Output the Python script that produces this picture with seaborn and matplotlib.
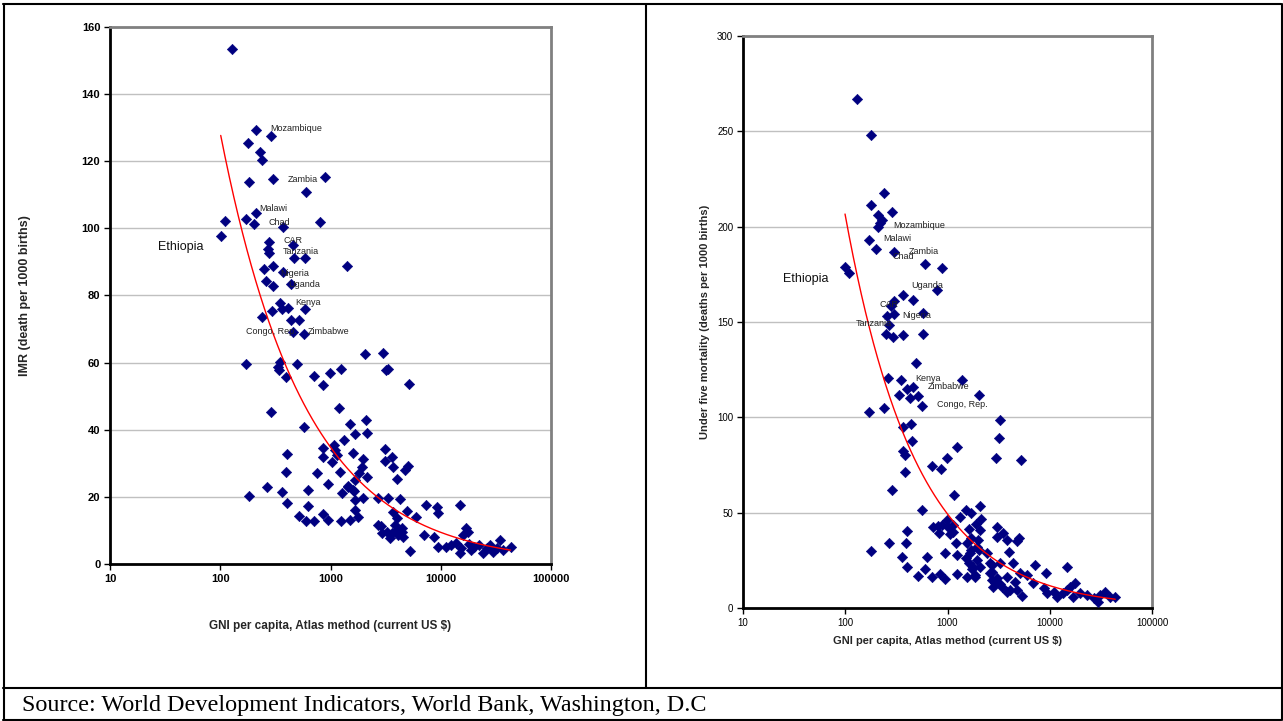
import numpy as np
import pandas as pd
import seaborn as sns
import matplotlib.pyplot as plt
from matplotlib.lines import Line2D
from matplotlib.ticker import NullLocator

sns.set_theme(style="white")
plt.rcParams['font.family'] = ['Liberation Sans', 'DejaVu Sans']

# ---- left panel: GNI per capita vs infant mortality ----
imr_gni = [128, 211, 286, 179, 229, 239, 181, 299, 889, 603,
           211, 110, 171, 201, 370, 801, 101, 278, 453, 272,
           275, 469, 582, 1400, 249, 299, 368, 259, 299, 441,
           348, 292, 360, 408, 585, 237, 436, 517, 459, 573,
           171, 348, 340, 331, 394, 492, 702, 994, 1241, 863,
           290, 1183, 570, 1500, 1665, 1321, 1067, 859, 848, 1023,
           1136, 1607, 400, 392, 748, 1216, 940, 1259, 1438, 1640,
           181, 268, 360, 620, 403, 628, 520, 603, 712, 853,
           940, 1241, 1500, 2110, 2135, 1097, 1977, 1950, 2124, 1820,
           1665, 1448, 1607, 1665, 1977, 3110, 3110, 3580, 3700, 4720,
           5060, 4025, 2700, 3330, 4310, 1665, 1782, 3700, 4960, 4025,
           6020, 2864, 2905, 3230, 3580, 3975, 4410, 4560, 3450, 4105,
           3835, 4410, 5250, 7330, 9270, 9460, 7080, 8720, 9460, 14900,
           17730, 17100, 11200, 12500, 13700, 15400, 14900, 18000, 20000, 22400,
           24200, 26200, 28000, 30000, 34500, 36800, 43000, 32700, 18800, 2700,
           2040, 3000, 3220, 3330, 5130, 16000]
imr_val = [153.5, 129.2, 127.6, 125.5, 122.7, 120.2, 113.9, 114.5, 115.2, 110.7,
           104.4, 102.1, 102.8, 101.1, 100.4, 101.7, 97.8, 95.9, 94.9, 93.8,
           92.6, 91.2, 91.0, 88.7, 87.9, 88.7, 87.0, 84.4, 82.9, 83.3,
           77.8, 75.3, 75.8, 76.1, 75.8, 73.6, 72.6, 72.8, 69.1, 68.4,
           59.5, 60.1, 57.9, 58.6, 55.7, 59.5, 55.9, 57.0, 58.0, 53.4,
           45.3, 46.5, 40.8, 41.6, 38.7, 36.9, 35.4, 34.4, 31.9, 30.4,
           32.4, 33.1, 32.8, 27.3, 27.2, 27.3, 23.8, 21.0, 23.0, 21.8,
           20.3, 23.0, 21.3, 22.0, 18.2, 17.3, 14.3, 12.9, 12.8, 14.9,
           13.0, 12.8, 13.1, 42.9, 38.9, 33.9, 31.4, 29.0, 26.0, 27.0,
           25.0, 23.2, 22.0, 19.0, 19.7, 34.1, 30.8, 31.8, 28.8, 28.0,
           29.3, 25.3, 19.8, 19.8, 19.3, 16.1, 14.1, 15.6, 15.8, 13.6,
           13.9, 11.3, 9.1, 9.6, 9.1, 10.1, 9.6, 8.1, 7.6, 8.6,
           11.6, 10.6, 4.0, 17.6, 17.1, 15.3, 8.6, 8.1, 5.2, 17.6,
           9.6, 10.6, 5.2, 5.6, 6.2, 4.7, 3.2, 6.0, 5.2, 5.7,
           3.2, 4.7, 5.7, 3.7, 7.1, 4.2, 5.2, 4.7, 4.2, 11.6,
           62.4, 62.7, 57.9, 58.2, 53.5, 8.5]
imr_names = ['Mozambique', 'Zambia', 'Malawi', 'Chad', 'CAR', 'Tanzania', 'Nigeria',
             'Uganda', 'Kenya', 'Congo, Rep.', 'Zimbabwe']
imr_lab_x = [286, 408, 226, 272, 378, 368, 348, 414, 479, 170, 628]
imr_lab_y = [129.6, 114.6, 106, 101.6, 96.2, 93, 86.5, 83.3, 78, 69.1, 69.3]
imr_eth = (27.4, 94.3)

# ---- right panel: GNI per capita vs under five mortality ----
u5_gni = [129, 179, 238, 179, 287, 208, 229, 208, 170, 202,
          300, 604, 879, 99.5, 110, 796, 218, 300, 279, 365,
          464, 258, 300, 270, 249, 291, 370, 581, 573, 493,
          261, 349, 405, 464, 431, 338, 519, 568, 170, 240,
          1400, 2040, 365, 441, 451, 370, 382, 387, 289, 702,
          859, 990, 1233, 1161, 564, 180, 270, 400, 391, 357,
          403, 519, 604, 627, 702, 848, 948, 943, 728, 815,
          833, 1020, 1214, 1233, 1233, 1143, 984, 1327, 1510, 1690,
          2085, 2118, 1637, 2085, 1545, 1665, 1935, 1770, 1545, 1862,
          2710, 2420, 3270, 3180, 2990, 5210, 3050, 3080, 3520, 3800,
          4760, 5010, 3950, 3270, 4360, 2610, 2710, 2920, 3400, 3800,
          4580, 4760, 5330, 4100, 3050, 5070, 5980, 7200, 6930, 9230,
          14900, 8690, 9380, 10900, 13600, 15850, 17700, 14700, 19800, 23000,
          26800, 31100, 34800, 39000, 43700, 11700, 17000, 29900, 2780, 2710,
          1520, 1690, 1610, 1730, 1862, 1935, 2085, 2050, 1690, 2000,
          1900, 879, 1060, 1143, 2610, 3800, 3240]
u5_val = [266.7, 248, 217.7, 211.4, 207.8, 206, 203.2, 199.9, 193, 188.1,
          186.8, 180.5, 178.2, 179, 175.8, 166.6, 202, 161.2, 158.6, 164,
          161.4, 153.4, 154.2, 148.6, 143.9, 142.2, 143.2, 143.8, 154.8, 128.5,
          120.5, 119.8, 114.9, 116, 110.2, 111.9, 111.4, 105.8, 102.8, 104.7,
          119.4, 111.9, 94.8, 96.5, 87.8, 82.5, 80.1, 71.5, 62.1, 74.7,
          73.1, 79, 84.3, 59.4, 51.6, 30.2, 34.4, 40.7, 34.1, 26.8,
          21.8, 16.9, 20.5, 26.8, 16.3, 18, 15.2, 28.9, 42.5, 43.2,
          39.3, 42.8, 34.1, 28, 18, 40.2, 46.3, 47.7, 51.6, 49.8,
          53.7, 46.7, 41.4, 41.1, 34.1, 28.9, 32.3, 21.5, 16.6, 17.5,
          22.7, 28.9, 98.8, 89.2, 79, 77.8, 42.8, 37.6, 39.7, 35.8,
          35.5, 36.7, 29.7, 23.6, 23.6, 23.6, 19.2, 13.1, 11.3, 16.6,
          14, 9.6, 6.5, 9.6, 15.7, 18.4, 17.5, 22.7, 13.4, 18.4,
          21.8, 10.5, 7.9, 8.7, 7.9, 11.3, 13.1, 9.6, 7.9, 7,
          5.2, 7, 8.7, 6.1, 6.1, 6.1, 6.1, 3.5, 11.3, 14.8,
          26.2, 30.6, 23.6, 20.5, 16.6, 25.3, 21.8, 30.6, 36.7, 35.8,
          44.1, 43.7, 39, 43.7, 18.4, 8.7, 12.5]
u5_names = ['Mozambique', 'Malawi', 'Zambia', 'Chad', 'Uganda', 'CAR', 'Nigeria',
            'Tanzania', 'Kenya', 'Zimbabwe', 'Congo, Rep.']
u5_lab_x = [292, 236, 418, 287, 447, 214, 362, 128, 485, 635, 796]
u5_lab_y = [200.7, 193.8, 187.1, 184.2, 169.1, 159.1, 153.4, 149.2, 120.3, 116, 106.7]
u5_eth = (24.8, 172.6)

x_ticks = [10, 100, 1000, 10000, 100000]
x_tick_labels = ['10', '100', '1000', '10000', '100000']
xlab = 'GNI per capita, Atlas method (current US $)'
source = 'Source: World Development Indicators, World Bank, Washington, D.C'


def panel(ax, gni, vals, names, lx, ly, eth, ymax, ystep, bold, tsize):
    df = pd.DataFrame({'GNI': gni, 'Rate': vals})
    sns.scatterplot(data=df, x='GNI', y='Rate', marker='D', s=28, color='#000080',
                    edgecolor='#000080', linewidth=0.4, ax=ax, zorder=3, legend=False)
    # excel style power trendline fitted to the points
    b, a = np.polyfit(np.log(df['GNI']), np.log(df['Rate']), 1)
    xs = np.logspace(np.log10(df['GNI'].min()), np.log10(df['GNI'].max()), 200)
    ax.plot(xs, np.exp(a) * xs ** b, color='red', lw=1, zorder=4)

    for n, x, y in zip(names, lx, ly):
        ax.text(x, y, n, fontsize=6.5, color='#222222', ha='left', va='center', zorder=5)
    ax.text(eth[0], eth[1], 'Ethiopia', fontsize=9, color='#111111', ha='left', va='center')

    ax.set_xscale('log')
    ax.set_xlim(10, 100000)
    ax.set_ylim(0, ymax)
    ax.set_xticks(x_ticks, labels=x_tick_labels)
    ax.xaxis.set_minor_locator(NullLocator())
    ax.set_yticks(np.arange(0, ymax + 1, ystep))
    ax.yaxis.grid(True, color='#c0c0c0', lw=1)
    ax.set_axisbelow(True)
    ax.tick_params(axis='both', which='major', direction='out', length=4, width=1,
                   color='black', bottom=True, left=True, labelsize=tsize, pad=3)
    w = 'bold' if bold else 'normal'
    for t in ax.get_xticklabels() + ax.get_yticklabels():
        t.set_fontweight(w)
        t.set_color('black')
    for s in ['left', 'bottom']:
        ax.spines[s].set_color('black')
        ax.spines[s].set_linewidth(2)
    for s in ['top', 'right']:
        ax.spines[s].set_color('#808080')
        ax.spines[s].set_linewidth(2)


fig = plt.figure(figsize=(12.83, 7.21), dpi=100)
ax1 = fig.add_axes([110 / 1283, 1 - 564 / 721, 441 / 1283, 537.3 / 721])
ax2 = fig.add_axes([743 / 1283, 1 - 608.3 / 721, 409 / 1283, 572.6 / 721])

panel(ax1, imr_gni, imr_val, imr_names, imr_lab_x, imr_lab_y, imr_eth, 160, 20, True, 8)
panel(ax2, u5_gni, u5_val, u5_names, u5_lab_x, u5_lab_y, u5_eth, 300, 50, False, 7)

ax1.set_xlabel(xlab, fontsize=8.5, fontweight='bold')
ax1.set_ylabel('IMR (death per 1000 births)', fontsize=9, fontweight='bold')
ax1.xaxis.set_label_coords(0.5, -0.115)
ax1.xaxis.label.set_va('center')
ax1.yaxis.set_label_coords(-0.193, 0.5)
ax1.yaxis.label.set_va('center')

ax2.set_xlabel(xlab, fontsize=8, fontweight='bold')
ax2.set_ylabel('Under five mortality (deaths per 1000 births)', fontsize=8, fontweight='bold')
ax2.xaxis.set_label_coords(0.5, -0.057)
ax2.xaxis.label.set_va('center')
ax2.yaxis.set_label_coords(-0.093, 0.5)
ax2.yaxis.label.set_va('center')


# table borders around the two charts and the source row
def hline(py, x0=3, x1=1281, lw=1.5):
    fig.add_artist(Line2D([x0 / 1283, x1 / 1283], [1 - py / 721, 1 - py / 721],
                          transform=fig.transFigure, color='black', lw=lw))


def vline(px, y0, y1, lw=1.5):
    fig.add_artist(Line2D([px / 1283, px / 1283], [1 - y0 / 721, 1 - y1 / 721],
                          transform=fig.transFigure, color='black', lw=lw))


hline(4)
hline(688)
hline(719.5)
vline(3.5, 4, 720)
vline(1281.5, 4, 720)
vline(646, 4, 688)

fig.text(22 / 1283, 1 - 705 / 721, source, fontsize=17.4, ha='left', va='center',
         family=['Liberation Serif', 'DejaVu Serif'], color='black')

fig.savefig('out.png', dpi=100)
